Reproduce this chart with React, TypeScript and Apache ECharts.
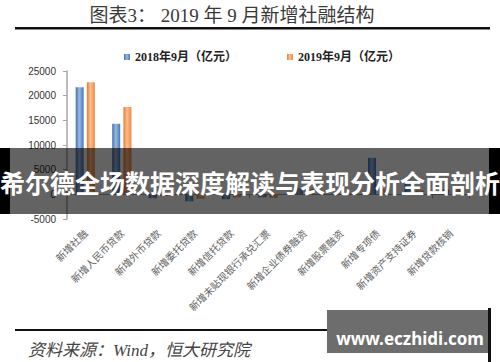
import React, { useEffect, useRef } from "react";
import * as echarts from "echarts";

const categories = [
  "新增社融",
  "新增人民币贷款",
  "新增外币贷款",
  "新增委托贷款",
  "新增信托贷款",
  "新增未贴现银行承兑汇票",
  "新增企业债券融资",
  "新增股票融资",
  "新增专项债",
  "新增资产支持证券",
  "新增贷款核销",
];
const values2018 = [21700, 14300, -800, -1400, -1000, -600, 1300, 140, 7400, 2400, 1000];
const values2019 = [22700, 17700, -300, -900, -600, -700, 1100, 200, 950, 800, 1050];
const seriesNames = ["2018年9月（亿元）", "2019年9月（亿元）"];
const yTicks = { min: -5000, max: 25000, interval: 5000 };

const titleText = "图表3： 2019 年 9 月新增社融结构";
const bannerText = "希尔德全场数据深度解读与表现分析全面剖析";
const sourceText = "资料来源：Wind，恒大研究院";
const watermarkText = "www.eczhidi.com";

const serif = '"Liberation Serif", "Noto Sans CJK SC", serif';
const cjk = '"Noto Sans CJK SC", sans-serif';

function grad(edge: string, mid: string, edge2: string) {
  return new echarts.graphic.LinearGradient(0, 0, 1, 0, [
    { offset: 0, color: edge },
    { offset: 0.45, color: mid },
    { offset: 1, color: edge2 },
  ]);
}

export default function App() {
  const ref = useRef<HTMLDivElement>(null);
  useEffect(() => {
    if (!ref.current) return;
    const chart = echarts.init(ref.current, undefined, { renderer: "svg" });
    chart.setOption({
      animation: false,
      backgroundColor: "#ffffff",
      grid: { left: 67, right: 31, top: 71, bottom: 143, containLabel: false },
      legend: {
        left: 119,
        top: 46,
        icon: "rect",
        itemWidth: 6,
        itemHeight: 6,
        itemGap: 50,
        textStyle: { fontSize: 12, fontWeight: "bold", color: "#222", fontFamily: serif },
        data: seriesNames,
      },
      xAxis: [
        {
          type: "category",
          data: categories,
          position: "bottom",
          axisLine: { onZero: true, lineStyle: { color: "#a6a6a6", width: 1 } },
          axisTick: { show: true, length: 4, lineStyle: { color: "#a6a6a6" } },
          axisLabel: { show: false },
        },
        {
          type: "category",
          data: categories,
          position: "bottom",
          axisLine: { show: false, onZero: false },
          axisTick: { show: false },
          axisLabel: {
            show: true,
            rotate: 45,
            margin: 12,
            fontSize: 10,
            color: "#606060",
            fontFamily: cjk,
            interval: 0,
          },
        },
      ],
      yAxis: {
        type: "value",
        min: yTicks.min,
        max: yTicks.max,
        interval: yTicks.interval,
        splitLine: { show: false },
        axisLine: { show: true, lineStyle: { color: "#a6a6a6", width: 1.5 } },
        axisTick: { show: true, length: 4, lineStyle: { color: "#a6a6a6" } },
        axisLabel: {
          fontSize: 10,
          color: "#333",
          fontFamily: '"Liberation Sans", Arial, sans-serif',
          margin: 11,
          formatter: (v: number) => String(v),
        },
      },
      series: [
        {
          name: seriesNames[0],
          type: "bar",
          xAxisIndex: 0,
          data: values2018,
          barWidth: 8,
          barGap: "40%",
          itemStyle: { color: grad("#3a6fb4", "#9cb9de", "#4677ba") },
        },
        {
          name: seriesNames[1],
          type: "bar",
          xAxisIndex: 0,
          data: values2019,
          barWidth: 8,
          barGap: "40%",
          itemStyle: { color: grad("#ec7a2e", "#fbbe90", "#ef8740") },
        },
      ],
      graphic: [
        {
          type: "text",
          x: 232,
          y: 15,
          z: 10,
          style: {
            text: titleText,
            fill: "#3a3a3a",
            font: `19px ${serif}`,
            textAlign: "center",
            textVerticalAlign: "middle",
            align: "center",
            verticalAlign: "middle",
          },
        },
        { type: "rect", z: 10, shape: { x: 15, y: 27, width: 475, height: 2.5 }, style: { fill: "#111" } },
        { type: "rect", z: 10, shape: { x: 15, y: 329, width: 312, height: 2 }, style: { fill: "#111" } },
        {
          type: "text",
          x: 28,
          y: 350,
          z: 10,
          style: {
            text: sourceText,
            fill: "#444",
            font: `italic 17px ${serif}`,
            textAlign: "left",
            textVerticalAlign: "middle",
            align: "left",
            verticalAlign: "middle",
          },
        },
        { type: "rect", z: 10, shape: { x: 327, y: 310, width: 161, height: 43 }, style: { fill: "#6d6d6d" } },
        { type: "rect", z: 10, shape: { x: 488, y: 308, width: 3, height: 54 }, style: { fill: "#111" } },
        {
          type: "text",
          x: 410,
          y: 338,
          z: 11,
          style: {
            text: watermarkText,
            fill: "#ffffff",
            font: 'bold 17px "Noto Sans", sans-serif',
            textAlign: "center",
            textVerticalAlign: "middle",
            align: "center",
            verticalAlign: "middle",
          },
        },
        { type: "rect", z: 100, shape: { x: 0, y: 148, width: 500, height: 66 }, style: { fill: "rgba(0,0,0,0.61)" } },
        { type: "rect", z: 101, shape: { x: 0, y: 148, width: 10, height: 66 }, style: { fill: "#000" } },
        { type: "rect", z: 101, shape: { x: 489, y: 148, width: 11, height: 66 }, style: { fill: "#000" } },
        {
          type: "text",
          x: 250,
          y: 182,
          z: 102,
          style: {
            text: bannerText,
            fill: "#ffffff",
            font: `bold 25px ${cjk}`,
            textAlign: "center",
            textVerticalAlign: "middle",
            align: "center",
            verticalAlign: "middle",
          },
        },
      ],
    });
    return () => chart.dispose();
  }, []);
  return <div ref={ref} style={{ width: 500, height: 362, position: "absolute", left: 0, top: 0 }} />;
}
